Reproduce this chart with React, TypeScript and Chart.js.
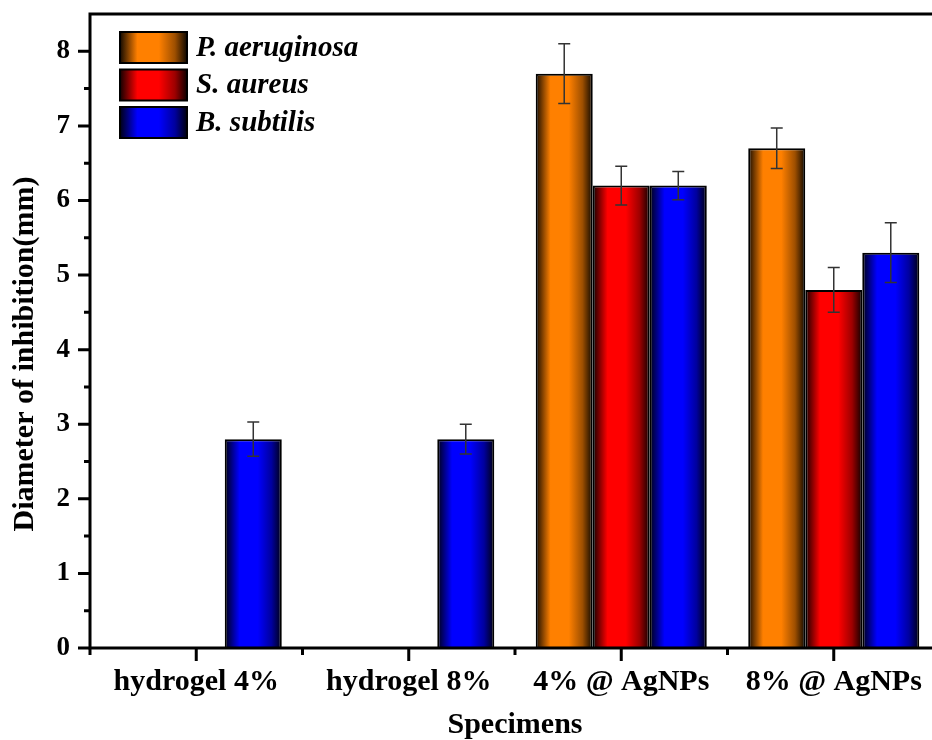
import React, { useEffect, useRef } from "react";
import { Chart, registerables } from "chart.js";

Chart.register(...registerables);

// ---- data ----
const categories = ["hydrogel 4%", "hydrogel 8%", "4% @ AgNPs", "8% @ AgNPs"];
const seriesNames = ["P. aeruginosa", "S. aureus", "B. subtilis"];
const pAeruginosa = [null, null, 7.7, 6.7];
const sAureus = [null, null, 6.2, 4.8];
const bSubtilis = [2.8, 2.8, 6.2, 5.3];
const pAeruginosaErr = [null, null, 0.4, 0.27];
const sAureusErr = [null, null, 0.26, 0.3];
const bSubtilisErr = [0.23, 0.2, 0.19, 0.4];
const yMajorTicks = [0, 1, 2, 3, 4, 5, 6, 7, 8];
const yMinorTicks = [0.5, 1.5, 2.5, 3.5, 4.5, 5.5, 6.5, 7.5];
const yTitle = "Diameter of inhibition(mm)";
const xTitle = "Specimens";

const seriesValues = [pAeruginosa, sAureus, bSubtilis];
const seriesErrors = [pAeruginosaErr, sAureusErr, bSubtilisErr];
const seriesColors: number[][] = [
  [255, 128, 0],
  [255, 0, 0],
  [0, 0, 255],
];

const FONT = '"Liberation Serif", "Times New Roman", serif';

function shade(rgb: number[], f: number) {
  return `rgb(${Math.round(rgb[0] * f)},${Math.round(rgb[1] * f)},${Math.round(rgb[2] * f)})`;
}

function barGradient(ctx: CanvasRenderingContext2D, x0: number, x1: number, rgb: number[]) {
  const g = ctx.createLinearGradient(x0, 0, x1, 0);
  g.addColorStop(0, shade(rgb, 0.08));
  g.addColorStop(0.26, shade(rgb, 1));
  g.addColorStop(0.58, shade(rgb, 1));
  g.addColorStop(0.82, shade(rgb, 0.62));
  g.addColorStop(1, shade(rgb, 0.06));
  return g;
}

const decorPlugin = {
  id: "decor",
  beforeDatasetsDraw(chart: any) {
    const ctx = chart.ctx;
    chart.data.datasets.forEach((_ds: any, i: number) => {
      const meta = chart.getDatasetMeta(i);
      meta.data.forEach((el: any) => {
        if (!el || !isFinite(el.x) || !isFinite(el.width)) return;
        const w = el.width;
        el.options = Object.assign({}, el.options, {
          backgroundColor: barGradient(ctx, el.x - w / 2, el.x + w / 2, seriesColors[i]),
        });
      });
    });
  },
  afterDatasetsDraw(chart: any) {
    const ctx = chart.ctx;
    const y = chart.scales.y;
    ctx.save();
    ctx.strokeStyle = "#333";
    ctx.lineWidth = 1.5;
    seriesValues.forEach((vals, i) => {
      const meta = chart.getDatasetMeta(i);
      vals.forEach((v, j) => {
        const e = seriesErrors[i][j];
        if (v == null || e == null) return;
        const el = meta.data[j];
        const x = el.x;
        const yt = y.getPixelForValue(v + e);
        const yb = y.getPixelForValue(v - e);
        ctx.beginPath();
        ctx.moveTo(x, yt);
        ctx.lineTo(x, yb);
        ctx.moveTo(x - 6, yt);
        ctx.lineTo(x + 6, yt);
        ctx.moveTo(x - 6, yb);
        ctx.lineTo(x + 6, yb);
        ctx.stroke();
      });
    });
    ctx.restore();
  },
  afterDraw(chart: any) {
    const ctx = chart.ctx;
    const { left, right, top, bottom } = chart.chartArea;
    const xs = chart.scales.x;
    const ys = chart.scales.y;
    ctx.save();
    ctx.strokeStyle = "#000";
    ctx.lineWidth = 3;
    ctx.lineCap = "square";
    // frame
    ctx.beginPath();
    ctx.moveTo(right, top);
    ctx.lineTo(left, top);
    ctx.lineTo(left, bottom);
    ctx.lineTo(right, bottom);
    ctx.stroke();
    ctx.lineCap = "butt";
    // y ticks
    ctx.beginPath();
    yMajorTicks.forEach((v) => {
      const p = ys.getPixelForValue(v);
      ctx.moveTo(left - 12, p);
      ctx.lineTo(left, p);
    });
    yMinorTicks.forEach((v) => {
      const p = ys.getPixelForValue(v);
      ctx.moveTo(left - 6, p);
      ctx.lineTo(left, p);
    });
    // x ticks
    const cw = (right - left) / categories.length;
    categories.forEach((_c, j) => {
      const p = xs.getPixelForValue(j);
      ctx.moveTo(p, bottom);
      ctx.lineTo(p, bottom + 13);
    });
    for (let k = 0; k <= categories.length; k++) {
      const p = left + k * cw;
      ctx.moveTo(p, bottom);
      ctx.lineTo(p, bottom + 7);
    }
    ctx.stroke();

    // y title
    ctx.fillStyle = "#000";
    ctx.font = `bold 30px ${FONT}`;
    ctx.textAlign = "center";
    ctx.textBaseline = "middle";
    ctx.translate(25, 354);
    ctx.rotate(-Math.PI / 2);
    ctx.fillText(yTitle, 0, 0);
    ctx.restore();

    // legend
    ctx.save();
    chart.data.datasets.forEach((ds: any, i: number) => {
      const bx = 120;
      const bw = 67;
      const bh = 31;
      const by = 32 + i * 37.5;
      ctx.fillStyle = barGradient(ctx, bx, bx + bw, seriesColors[i]);
      ctx.fillRect(bx, by, bw, bh);
      ctx.strokeStyle = "#000";
      ctx.lineWidth = 2;
      ctx.strokeRect(bx, by, bw, bh);
      ctx.fillStyle = "#000";
      ctx.font = `italic bold 29px ${FONT}`;
      ctx.textAlign = "left";
      ctx.textBaseline = "middle";
      ctx.fillText(ds.label, 196, by + bh / 2 + 1);
    });
    ctx.restore();
  },
};

export default function App() {
  const ref = useRef<HTMLCanvasElement | null>(null);
  useEffect(() => {
    if (!ref.current) return;
    const chart = new Chart(ref.current, {
      type: "bar",
      data: {
        labels: categories,
        datasets: seriesNames.map((name, i) => ({
          label: name,
          data: seriesValues[i] as any,
          backgroundColor: shade(seriesColors[i], 1),
          borderColor: "#000",
          borderWidth: 2,
          barPercentage: 1,
          categoryPercentage: 0.805,
        })),
      },
      options: {
        responsive: false,
        animation: false,
        devicePixelRatio: 1,
        layout: { padding: { top: 14, left: 0, right: 0, bottom: 0 } },
        plugins: {
          legend: { display: false },
          tooltip: { enabled: false },
        },
        scales: {
          x: {
            offset: true,
            grid: { display: false, drawTicks: false },
            border: { display: false },
            ticks: {
              color: "#000",
              padding: 16,
              font: { family: FONT, size: 30, weight: "bold", lineHeight: 1.2 },
              maxRotation: 0,
              autoSkip: false,
            },
            title: {
              display: true,
              text: xTitle,
              color: "#000",
              padding: { top: 0, bottom: -3 },
              font: { family: FONT, size: 30, weight: "bold", lineHeight: 1.2 },
            },
            afterFit: (s: any) => {
              s.height = 92;
              s.paddingLeft = 0;
              s.paddingRight = 0;
            },
          },
          y: {
            min: 0,
            max: 8.5,
            grid: { display: false, drawTicks: false },
            border: { display: false },
            ticks: {
              stepSize: 1,
              color: "#000",
              padding: 20,
              font: { family: FONT, size: 27, weight: "bold", lineHeight: 1 },
            },
            afterBuildTicks: (s: any) => {
              s.ticks = yMajorTicks.map((v) => ({ value: v }));
            },
            afterFit: (s: any) => {
              s.width = 90;
              s.paddingTop = 0;
              s.paddingBottom = 0;
            },
          },
        },
      },
      plugins: [decorPlugin],
    });
    return () => chart.destroy();
  }, []);
  return (
    <div
      style={{
        position: "fixed",
        left: 0,
        top: 0,
        width: 932,
        height: 740,
        overflow: "hidden",
        background: "#fff",
      }}
    >
      <canvas ref={ref} width={940} height={740} style={{ display: "block" }} />
    </div>
  );
}
